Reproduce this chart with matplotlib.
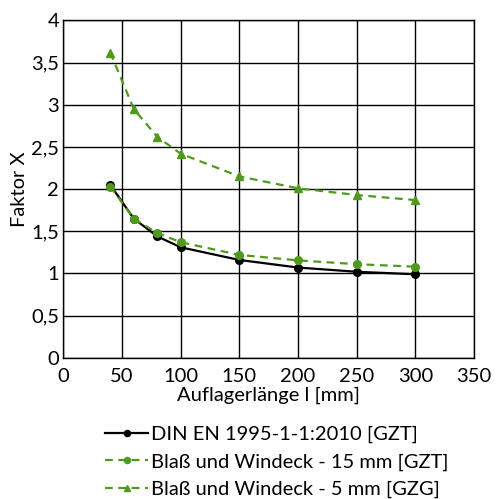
import numpy as np
import matplotlib.pyplot as plt
from matplotlib.ticker import FuncFormatter

plt.rcParams['font.family'] = ['Lato', 'DejaVu Sans']

# Auflagerlänge in mm
laenge = [40, 60, 80, 100, 150, 200, 250, 300]
din = [2.05, 1.65, 1.44, 1.31, 1.16, 1.07, 1.02, 0.99]
blass15 = [2.03, 1.65, 1.48, 1.37, 1.22, 1.155, 1.11, 1.08]
blass5 = [3.62, 2.95, 2.62, 2.42, 2.15, 2.01, 1.93, 1.87]

labels = ["DIN EN 1995-1-1:2010 [GZT]",
          "Blaß und Windeck - 15 mm [GZT]",
          "Blaß und Windeck - 5 mm [GZG]"]

gruen = '#4f9a1c'

fig = plt.figure(figsize=(4.99, 4.99), dpi=100)
ax = fig.add_axes([0.127, 0.283, 0.823, 0.676])

ax.plot(laenge, din, color='black', lw=1.6, marker='o', ms=5.5, label=labels[0], zorder=3)
ax.plot(laenge, blass15, color=gruen, lw=1.6, ls=(0, (3.5, 2.5)), marker='o', ms=5.5,
        label=labels[1], zorder=4)
ax.plot(laenge, blass5, color=gruen, lw=1.6, ls=(0, (3.5, 2.5)), marker='^', ms=5.5,
        label=labels[2], zorder=4)

ax.set_xlim(0, 350)
ax.set_ylim(0, 4)
ax.set_xticks(np.arange(0, 351, 50))
ax.set_yticks(np.arange(0, 4.01, 0.5))
ax.yaxis.set_major_formatter(FuncFormatter(lambda v, p: ('%g' % v).replace('.', ',')))
ax.grid(True, color='black', lw=1.0)
ax.set_axisbelow(True)
ax.tick_params(length=0, labelsize=14.5)
ax.tick_params(axis='x', pad=7)
ax.tick_params(axis='y', pad=3)
for s in ax.spines.values():
    s.set_color('black')
    s.set_linewidth(1.0)

ax.set_xlabel("Auflagerlänge l [mm]", fontsize=14.5, labelpad=1.5)
ax.set_ylabel("Faktor X", fontsize=14.5, labelpad=2)

leg = fig.legend(loc='upper left', bbox_to_anchor=(0.195, 0.163), frameon=False,
                 fontsize=14.5, handlelength=2.1, handletextpad=0.15,
                 labelspacing=0.5, borderaxespad=0, markerscale=0.8)

plt.savefig("out.png", dpi=100)
